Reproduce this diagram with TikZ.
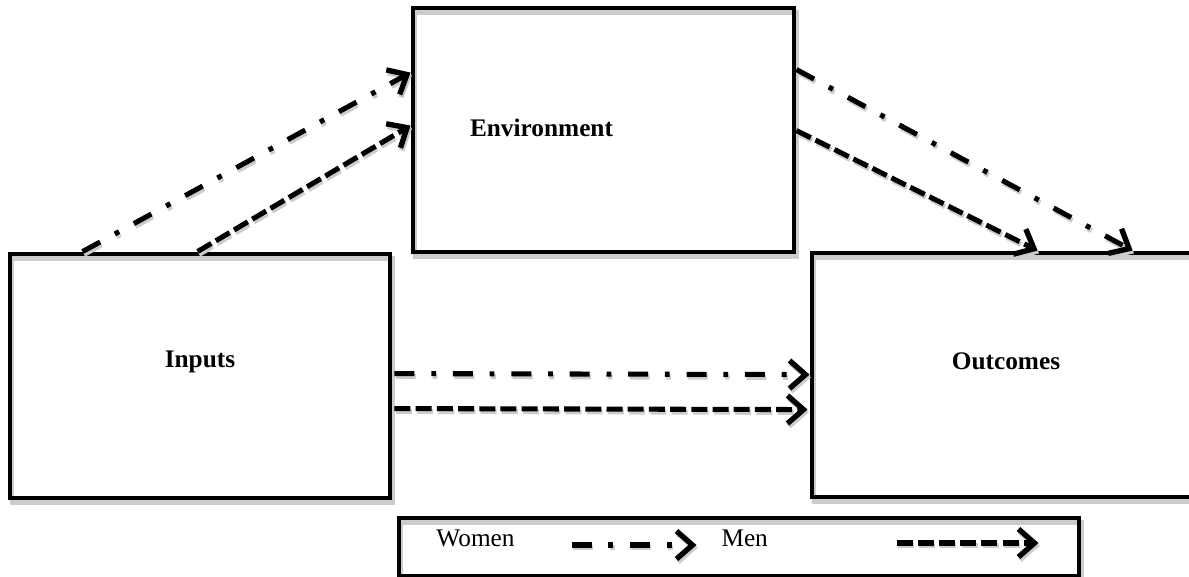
\documentclass[tikz,border=0pt]{standalone}
\usepackage{fontspec}
\setmainfont{Liberation Serif}
\usetikzlibrary{arrows.meta, positioning, calc}

\begin{document}
\begin{tikzpicture}[
  x=0.025cm, y=-0.025cm,
  block/.style={draw, line width=3.4pt, minimum width=#1, minimum height=6.1cm,
                inner sep=0pt,
                preaction={draw=black!20, line width=3.4pt,
                           transform canvas={shift={(1.5pt,-3pt)}}}},
  keybox/.style={draw, line width=3.4pt, minimum width=17cm, minimum height=1.45cm,
                 inner sep=0pt,
                 preaction={draw=black!20, line width=3.4pt,
                            transform canvas={shift={(1.5pt,-3pt)}}}},
  title/.style={font=\fontsize{18}{21}\selectfont\bfseries},
  keytext/.style={font=\fontsize{18}{21}\selectfont, anchor=west},
  dashdot/.style={dash pattern=on 0.5cm off 0.42cm on 0.12cm off 0.42cm},
  dashonly/.style={dash pattern=on 0.4cm off 0.13cm},
  tip/.style={-{Straight Barb[length=4mm,width=7mm,line width=3.8pt]}},
  women/.style={line width=3.6pt, dashdot, tip,
                preaction={draw=black!20, line width=3.6pt, dashdot, tip,
                           transform canvas={shift={(1pt,-2pt)}}}},
  men/.style={line width=3.6pt, dashonly, tip,
              preaction={draw=black!20, line width=3.6pt, dashonly, tip,
                         transform canvas={shift={(1pt,-2pt)}}}}
]
\useasboundingbox (0,0) rectangle (1189,577);

% boxes
\node[block=9.525cm] (env)      at (603.5,130) {};
\node[block=9.5cm]   (inputs)   at (200,376)   {};
\node[block=9.7cm]   (outcomes) at (1006,375)  {};
\node[title] (envlabel) at ($(env.center)+(-62,-2)$)      {Environment};
\node[title] (inlabel)  at ($(inputs.center)+(0,-14)$)    {Inputs};
\node[title] (outlabel) at ($(outcomes.center)+(0,-14)$)  {Outcomes};

% legend
\node[keybox] (legend) at (739,547) {};
\node[keytext] (women) at ($(legend.west)+(35,-9)$) {Women};
\node[keytext] (men)   at ($(legend.west)+(320,-9)$) {Men};
\coordinate (wstart) at ($(legend.west)+(175,-2)$);
\coordinate (wend)   at ($(legend.west)+(300,-2)$);
\coordinate (mstart) at ($(legend.west)+(500,-4)$);
\coordinate (mend)   at ($(legend.west)+(642,-4)$);

% connectors
\draw[women] ($(inputs.north west)+(75,0)$) -- ($(env.north west)+(0,67)$);
\draw[men]   ($(inputs.north west)+(190,0)$) -- ($(env.north west)+(0,120)$);
\draw[women] ($(env.north east)+(0,64)$) -- ($(outcomes.north west)+(323,0)$);
\draw[men]   ($(env.north east)+(0,125)$) -- ($(outcomes.north west)+(228,0)$);
\draw[women] ($(inputs.north east)+(2,122)$) -- ($(outcomes.north west)+(0,124)$);
\draw[men]   ($(inputs.north east)+(2,157)$) -- ($(outcomes.north west)+(-2,159)$);
\draw[women] (wstart) -- (wend);
\draw[men]   (mstart) -- (mend);
\end{tikzpicture}
\end{document}
